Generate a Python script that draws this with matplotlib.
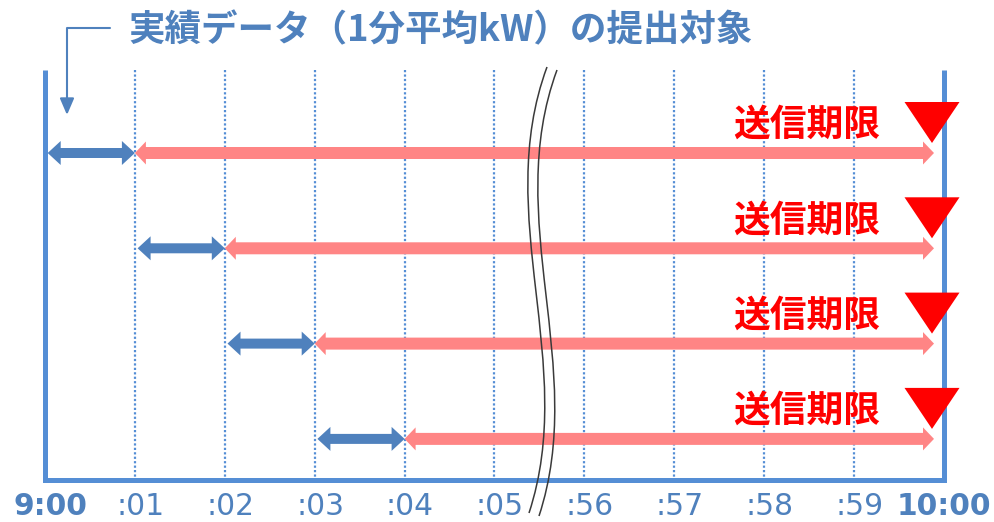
import matplotlib
matplotlib.use('Agg')
import matplotlib.pyplot as plt
from matplotlib.patches import FancyArrowPatch, Polygon, PathPatch
from matplotlib.path import Path

###
## Data
###
tick_labels = ['9:00', ':01', ':02', ':03', ':04', ':05', ':56', ':57', ':58', ':59', '10:00']
bold_ticks = ['9:00', '10:00']
data_start = [0, 1, 2, 3]   # slot where each 1-minute window starts
data_minutes = 1            # length of the window in slots
deadline_slot = 10          # 10:00 = submission deadline
deadline_label = '送信期限'
title_text = '実績データ（1分平均kW）の提出対象'

BLUE = '#4F81BD'
FRAME = '#558ED5'
PINK = '#FF8585'
RED = '#FF0000'
GREY = '#3A3A3A'
JP = 'Noto Sans CJK JP'

# layout of the reference picture (pixels): slot 0 at x=45, row 0 at y=153
W, H = 994, 522
X0, DX = 45, 89.9
Y0, DY = 153, 95.3


def px(x, y):
  return (x - X0) / DX, (y - Y0) / DY


def double_arrow(ax, xa, xb, y, color, shaft, head_w, head_l):
  # one polygon, sizes given in pixels
  hl = head_l / DX
  hw = head_w / 2.0 / DY
  sh = shaft / 2.0 / DY
  verts = [(xa, y), (xa + hl, y - hw), (xa + hl, y - sh), (xb - hl, y - sh),
           (xb - hl, y - hw), (xb, y), (xb - hl, y + hw), (xb - hl, y + sh),
           (xa + hl, y + sh), (xa + hl, y + hw)]
  ax.add_patch(Polygon(verts, closed=True, color=color, lw=0, zorder=3))


fig = plt.figure(figsize=(W / 100, H / 100), dpi=100)
ax = fig.add_axes([0, 0, 1, 1])
ax.set_xlim(px(0, 0)[0], px(W, 0)[0])
ax.set_ylim(px(0, H)[1], px(0, 0)[1])
ax.axis('off')

top = px(0, 70)[1]
bot = px(0, 480)[1]

# frame (left, bottom, right)
ax.plot([0, 0, deadline_slot, deadline_slot], [top, bot, bot, top], color=FRAME,
        lw=3.6, solid_joinstyle='miter', solid_capstyle='butt', zorder=2)

# dotted minute lines
for s in range(1, deadline_slot):
  ax.plot([s, s], [top, bot], color=FRAME, lw=1.6, ls=(0, (1, 1)), zorder=1)

# rows
red_gap = 10 / DX
for r, s in enumerate(data_start):
  double_arrow(ax, s + 0.03, s + data_minutes, r, BLUE, 10, 24, 13)
  double_arrow(ax, s + data_minutes, deadline_slot - red_gap, r, PINK, 12, 23, 11)
  # deadline marker
  tx = deadline_slot - 12 / DX
  hw = 27.5 / DX
  ax.add_patch(Polygon([(tx - hw, r - 51 / DY), (tx + hw, r - 51 / DY), (tx, r - 10 / DY)],
                       closed=True, color=RED, lw=0, zorder=4))
  ax.text(deadline_slot - 64 / DX, r - 17 / DY, deadline_label, ha='right', va='baseline',
          color=RED, fontsize=26.5, fontweight='bold', family=JP, zorder=4)

# tick labels
ty = px(0, 515)[1]
for i, lab in enumerate(tick_labels):
  off = 0.06 if i < len(tick_labels) - 1 else 0
  ax.text(i + off, ty, lab, ha='center', va='baseline', fontsize=21.4,
          fontweight='bold' if lab in bold_ticks else 'normal', color=BLUE,
          family='DejaVu Sans')

# title and its pointer
tx, tyy = px(441, 41)
ax.text(tx, tyy, title_text, ha='center', va='baseline', fontsize=26.3, fontweight='bold',
        color=BLUE, family=JP)
ptr = Path([px(110, 28), px(67, 28), px(67, 115)])
ax.add_patch(FancyArrowPatch(path=ptr, arrowstyle='-|>,head_length=14,head_width=6',
                             mutation_scale=0.72, lw=1.5, color=BLUE, zorder=3))

# break mark between :05 and :56
for dx, dy in ((0, 0), (10, 3)):
  pts = [px(547 + dx, 67 + dy), px(492 + dx, 216 + dy), px(578 + dx, 364 + dy), px(529 + dx, 513 + dy)]
  ax.add_patch(PathPatch(Path(pts, [Path.MOVETO, Path.CURVE4, Path.CURVE4, Path.CURVE4]),
                         fill=False, edgecolor=GREY, lw=1.1, zorder=5))

plt.savefig('out.png', dpi=100)
